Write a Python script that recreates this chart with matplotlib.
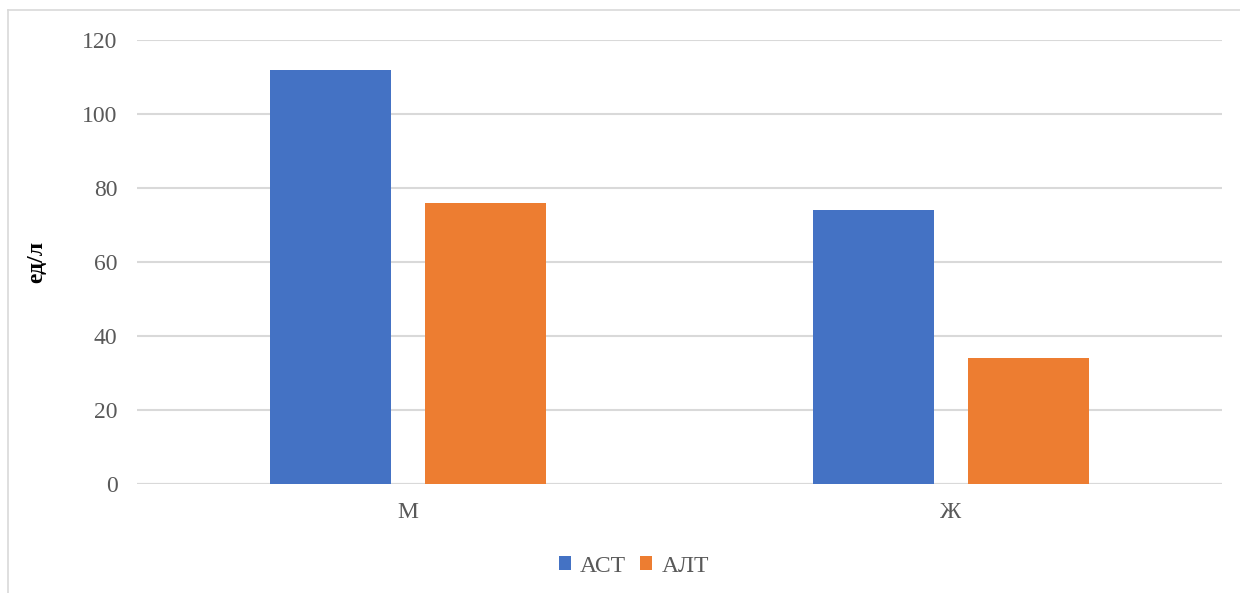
import numpy as np
import matplotlib.pyplot as plt
from matplotlib.lines import Line2D

plt.rcParams["font.family"] = ["Liberation Serif", "DejaVu Serif"]

categories = ["М", "Ж"]
series_names = ["АСТ", "АЛТ"]
ast_values = [112, 74]
alt_values = [76, 34]
y_ticks = [0, 20, 40, 60, 80, 100, 120]

colors = ["#4472C4", "#ED7D31"]
text_color = "#595959"
grid_color = "#D9D9D9"
fs = 17

fig = plt.figure(figsize=(12.4, 5.93), dpi=100)
ax = fig.add_axes([137 / 1240, 1 - 484 / 593, (1222 - 137) / 1240, (484 - 40) / 593])

x = np.arange(len(categories))
width = 0.223
offset = 0.143
ax.bar(x - offset, ast_values, width, color=colors[0], label=series_names[0], zorder=3)
ax.bar(x + offset, alt_values, width, color=colors[1], label=series_names[1], zorder=3)

ax.set_xlim(-0.5, len(categories) - 0.5)
ax.set_ylim(0, 120)
ax.set_yticks(y_ticks)
ax.set_xticks(x)
ax.set_xticklabels(categories)
ax.yaxis.grid(True, color=grid_color, linewidth=1.5, zorder=0)
ax.set_axisbelow(True)
for s in ax.spines.values():
    s.set_visible(False)
ax.axhline(0, color=grid_color, linewidth=1.5, zorder=1)
ax.tick_params(axis="both", length=0, labelsize=fs, colors=text_color)
ax.tick_params(axis="y", pad=14)
ax.tick_params(axis="x", pad=13)

ax.set_ylabel("ед/л", fontsize=fs, fontweight="bold", color="black", labelpad=25)

leg = fig.legend(loc="center", bbox_to_anchor=(634 / 1240, 1 - 566 / 593), ncol=2,
                 frameon=False, fontsize=fs, handlelength=0.5, handleheight=0.5,
                 handletextpad=0.4, columnspacing=0.6)
for t in leg.get_texts():
    t.set_color(text_color)

# thin outer frame on top and left
fig.add_artist(Line2D([8 / 1240, 1], [1 - 10 / 593, 1 - 10 / 593], color=grid_color, linewidth=1.2))
fig.add_artist(Line2D([8 / 1240, 8 / 1240], [0, 1 - 10 / 593], color=grid_color, linewidth=1.2))

plt.savefig("out.png", dpi=100)
